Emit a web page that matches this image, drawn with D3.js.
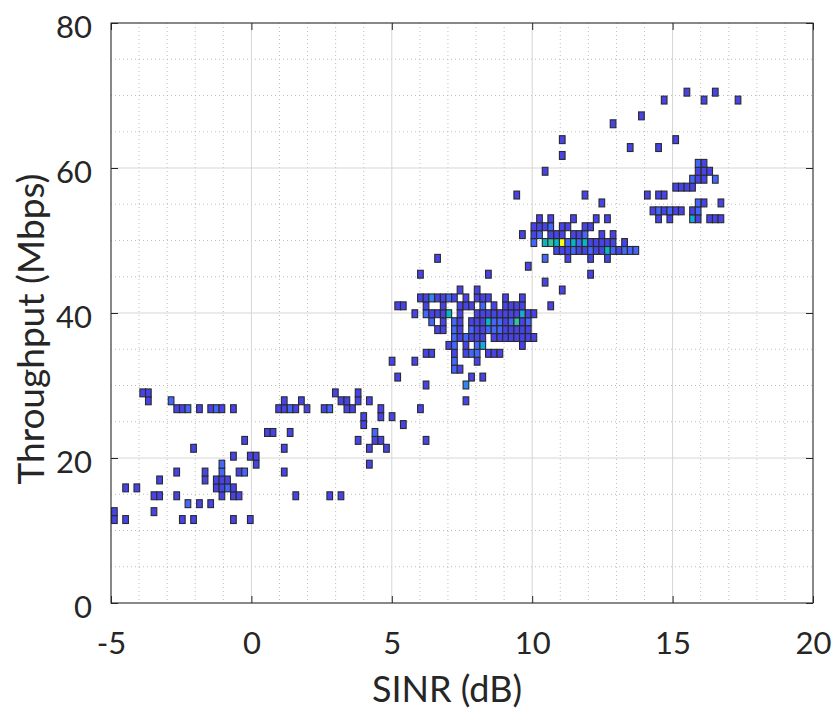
<!DOCTYPE html>
<html>
<head>
<meta charset="utf-8">
<script src="https://cdn.jsdelivr.net/npm/d3@7"></script>
<style>
  body { margin: 0; background: #fff; }
  text { font-family: Lato, "Open Sans", sans-serif; fill: #262626; }
</style>
</head>
<body>
<svg id="chart" width="832" height="717"></svg>
<script>
// bin size of the 2-D histogram
const sinrBinWidth = 0.202;   // dB
const tputBinHeight = 1.092;  // Mbps

const xTicks = [-5, 0, 5, 10, 15, 20];
const yTicks = [0, 20, 40, 60, 80];

// one entry per throughput bin: [throughput centre, SINR centres]
// a plain number is a bin holding 1 sample, [sinr, n] holds n samples
const histRows = [
  [11.51, [-4.88, -4.48, -2.46, -2.06, -0.64, -0.04]],
  [12.60, [-4.88, -3.47]],
  [13.70, [[-2.26, 2], -1.85, -1.45]],
  [14.79, [-3.47, -3.27, -2.66, -1.05, -0.64, -0.44, 1.58, 2.79, 3.19]],
  [15.88, [-4.48, -4.08, -1.25, -1.05, [-0.85, 2], -0.64]],
  [16.97, [-3.27, -1.65, -1.25, -1.05, -0.85]],
  [18.06, [-2.66, -1.65, [-1.05, 2], -0.44, [-0.24, 2], 1.17]],
  [19.15, [[-1.05, 2], 0.17, 4.20]],
  [20.25, [-0.64, -0.04, 0.17]],
  [21.34, [-2.06, 1.17, 4.20, 4.81]],
  [22.43, [-0.24, 3.80, 4.40, 4.61, 6.22]],
  [23.52, [0.57, 0.77, 1.38, [4.40, 2]]],
  [24.61, [4.00, 5.41]],
  [25.70, [4.00, 4.61, 5.01]],
  [26.80, [-2.66, -2.46, [-2.26, 2], -1.85, -1.45, [-1.25, 2], -1.05, -0.64, 0.97, 1.17, [1.38, 2], 1.58, 1.98, 2.59, [2.79, 2], 3.40, 3.60, 4.61, 6.02]],
  [27.89, [-3.67, [-2.86, 2], 1.17, 1.78, 3.19, 3.40, 3.80, 4.20, 7.64]],
  [28.98, [-3.87, -3.67, 2.99, 3.80]],
  [30.07, [6.22, [7.64, 3]]],
  [31.16, [5.21, 7.84, 8.24]],
  [32.25, [[7.23, 2], 7.43]],
  [33.35, [5.01, 5.82, [7.23, 2], 8.04]],
  [34.44, [6.22, 6.42, 7.23, 7.64, [7.84, 2], [8.04, 2], 8.44, 8.64, 8.85]],
  [35.53, [7.03, [7.23, 2], 7.64, [8.04, 2], [8.24, 4], 9.65]],
  [36.62, [[7.23, 2], 7.43, [7.64, 2], 7.84, 8.04, 8.24, 8.64, 8.85, 9.05, 9.25, 9.45, 9.65, 9.86, 10.06]],
  [37.71, [6.63, 6.83, [7.23, 2], 7.43, [7.84, 2], 8.04, 8.24, [8.44, 2], [8.64, 2], [8.85, 2], 9.05, 9.25, 9.45, 9.65, 9.86]],
  [38.80, [[6.42, 2], 6.83, [7.23, 2], 7.43, 7.84, 8.04, 8.24, [8.44, 5], [8.64, 2], [8.85, 2], 9.05, [9.25, 2], [9.45, 6], 9.65, [9.86, 2]]],
  [39.90, [5.82, [6.22, 2], 6.42, 6.63, 6.83, [7.03, 5], 7.43, 8.04, 8.24, 8.44, 8.64, 8.85, 9.05, 9.25, 9.45, [9.65, 4], 9.86, 10.06]],
  [40.99, [5.21, 5.41, 6.22, 6.83, 7.43, 7.64, 7.84, [8.24, 2], 8.64, 9.05, 9.25, 9.45, 9.65, 10.66]],
  [42.08, [6.02, 6.22, [6.42, 3], 6.63, 6.83, [7.03, 2], 7.23, 7.64, 8.04, 8.24, 8.44, 9.05, 9.65]],
  [43.17, [7.43, 8.04, 11.07]],
  [44.26, [10.46]],
  [45.35, [6.02, 8.44, 12.08]],
  [46.45, [9.86]],
  [47.54, [6.63, [10.46, 2], 11.27, 12.08, 12.68]],
  [48.63, [10.87, 11.07, 11.27, [11.47, 2], 11.67, 11.88, [12.08, 2], 12.28, 12.48, [12.68, 5], [12.88, 2], 13.09, [13.29, 2], [13.49, 2], [13.69, 2]]],
  [49.72, [[10.06, 2], [10.46, 5], [10.66, 6], [10.87, 5], [11.07, 10], [11.27, 2], [11.47, 5], [11.67, 2], [11.88, 5], 12.08, 12.28, 12.48, 12.68, 12.88, 13.29]],
  [50.81, [9.65, 10.06, [10.26, 2], 10.66, 10.87, 11.07, 11.47, 11.67, [11.88, 2], 12.48, 12.88]],
  [51.90, [10.06, 10.26, 10.46, [10.66, 2], 11.07, 11.27, 11.88, 12.08]],
  [53.00, [10.26, 10.66, 11.47, 12.28, 12.68, 14.50, 14.90, [15.71, 4], 15.91, 16.32, 16.52, 16.72]],
  [54.09, [14.30, [14.50, 2], 14.70, [14.90, 2], 15.11, 15.31, 15.71, [15.91, 2]]],
  [55.18, [12.48, [15.91, 2], 16.12, 16.72]],
  [56.27, [9.45, 11.88, 14.10, 14.50, 14.70]],
  [57.36, [15.11, 15.31, 15.51, 15.71]],
  [58.45, [[15.71, 2], 15.91, 16.12, [16.52, 2]]],
  [59.55, [10.46, 15.91, 16.12, 16.32]],
  [60.64, [[15.91, 2], 16.12]],
  [61.73, [11.07]],
  [62.82, [13.49, 14.50]],
  [63.91, [11.07, 15.11]],
  [66.10, [12.88]],
  [67.19, [13.89]],
  [69.37, [14.70, 16.12, 17.33]],
  [70.46, [15.51, 16.52]]
];

// parula, sampled every 10 %
const parula = ["#3e26a8", "#4743e7", "#4367fd", "#2d88f0", "#19a8de", "#06b7c3",
                "#30c4a0", "#74cb62", "#c2c22c", "#fec536", "#f9fb15"];
const maxCount = 10;

const width = 832, height = 717,
      margin = {top: 23, right: 19, bottom: 114, left: 111},
      w = width - margin.left - margin.right,
      h = height - margin.top - margin.bottom;

let cells = [];
histRows.forEach(([tput, list]) => {
    list.forEach(c => {
        if (Array.isArray(c)) cells.push({sinr: c[0], tput: tput, n: c[1]});
        else cells.push({sinr: c, tput: tput, n: 1});
    });
});

const x = d3.scaleLinear().domain([-5, 20]).range([0, w]);
const y = d3.scaleLinear().domain([0, 80]).range([h, 0]);
const color = d3.scaleLinear()
    .domain(parula.map((_, i) => i * maxCount / (parula.length - 1)))
    .range(parula)
    .clamp(true);

const svg = d3.select("#chart");
const g = svg.append("g").attr("transform", `translate(${margin.left},${margin.top})`);

g.append("clipPath").attr("id", "plot-clip")
    .append("rect").attr("width", w).attr("height", h);

// minor grid (dotted)
const xMinor = d3.range(-5, 21).filter(v => v % 5 !== 0),
      yMinor = d3.range(0, 81, 5).filter(v => v % 20 !== 0);
g.append("g").selectAll("line").data(xMinor).enter().append("line")
    .attr("x1", d => x(d)).attr("x2", d => x(d))
    .attr("y1", 0).attr("y2", h)
    .attr("stroke", "#bdbdbd").attr("stroke-dasharray", "1,3");
g.append("g").selectAll("line").data(yMinor).enter().append("line")
    .attr("y1", d => y(d)).attr("y2", d => y(d))
    .attr("x1", 0).attr("x2", w)
    .attr("stroke", "#bdbdbd").attr("stroke-dasharray", "1,3");

// major grid
g.append("g").selectAll("line").data(xTicks).enter().append("line")
    .attr("x1", d => x(d)).attr("x2", d => x(d))
    .attr("y1", 0).attr("y2", h)
    .attr("stroke", "#d6d6d6");
g.append("g").selectAll("line").data(yTicks).enter().append("line")
    .attr("y1", d => y(d)).attr("y2", d => y(d))
    .attr("x1", 0).attr("x2", w)
    .attr("stroke", "#d6d6d6");

// histogram tiles
g.append("g").attr("clip-path", "url(#plot-clip)")
    .selectAll("rect").data(cells).enter().append("rect")
    .attr("x", d => x(d.sinr - sinrBinWidth / 2))
    .attr("y", d => y(d.tput + tputBinHeight / 2))
    .attr("width", d => x(d.sinr + sinrBinWidth / 2) - x(d.sinr - sinrBinWidth / 2))
    .attr("height", d => y(d.tput - tputBinHeight / 2) - y(d.tput + tputBinHeight / 2))
    .attr("fill", d => color(d.n))
    .attr("stroke", "#2a2a2a")
    .attr("stroke-width", 1.1);

// axes, ticks pointing inward
const fontSize = 31;
const plain = d => String(d);   // keep the ASCII hyphen of the original
const xAxis = g.append("g").attr("transform", `translate(0,${h})`)
    .call(d3.axisBottom(x).tickValues(xTicks).tickFormat(plain)
        .tickSize(-7).tickSizeOuter(0).tickPadding(29));
const yAxis = g.append("g")
    .call(d3.axisLeft(y).tickValues(yTicks).tickFormat(plain)
        .tickSize(-7).tickSizeOuter(0).tickPadding(19));
g.append("g").call(d3.axisTop(x).tickValues(xTicks).tickSize(-7).tickSizeOuter(0).tickFormat(""));
g.append("g").attr("transform", `translate(${w},0)`)
    .call(d3.axisRight(y).tickValues(yTicks).tickSize(-7).tickSizeOuter(0).tickFormat(""));

g.selectAll(".domain").remove();
g.selectAll(".tick line").attr("stroke", "#262626");
xAxis.selectAll("text").attr("font-size", fontSize).attr("fill", "#262626")
    .attr("font-family", "Lato, sans-serif");
yAxis.selectAll("text").attr("font-size", fontSize).attr("fill", "#262626")
    .attr("font-family", "Lato, sans-serif").attr("dy", "0.47em");

g.append("rect").attr("width", w).attr("height", h)
    .attr("fill", "none").attr("stroke", "#262626").attr("stroke-width", 1);

// axis titles
svg.append("text")
    .attr("x", 447).attr("y", 702)
    .attr("text-anchor", "middle").attr("font-size", 36)
    .text("SINR (dB)");
svg.append("text")
    .attr("transform", "translate(44,329) rotate(-90)")
    .attr("text-anchor", "middle").attr("font-size", 37)
    .text("Throughput (Mbps)");
</script>
</body>
</html>
